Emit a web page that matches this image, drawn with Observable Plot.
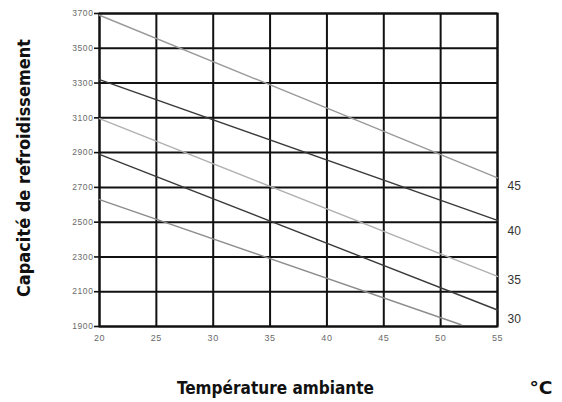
<!DOCTYPE html>
<html>
<head>
<meta charset="utf-8">
<script src="https://cdn.jsdelivr.net/npm/d3@7"></script>
<script src="https://cdn.jsdelivr.net/npm/@observablehq/plot@0.6"></script>
<style>
  html, body { margin: 0; padding: 0; background: #fff; }
  #chart { width: 562px; height: 402px; }
</style>
</head>
<body>
<div id="chart"></div>
<script>
// Data (cooling capacity vs ambient temperature)
const series = ["45", "40", "35", "30", "25"];
const startTemp = [20, 20, 20, 20, 20];
const endTemp = [55, 55, 55, 55, 51.8];
const startCap = [3690, 3320, 3095, 2890, 2630];
const endCap = [2755, 2510, 2188, 1995, 1910];
const lineColors = ["#9a9a9a", "#3a3a3a", "#b0b0b0", "#3a3a3a", "#8c8c8c"];
const labelText = ["45", "40", "35", "30"];
const labelCap = [2705, 2450, 2165, 1945];
const xTicks = [20, 25, 30, 35, 40, 45, 50, 55];
const yTicks = [1900, 2100, 2300, 2500, 2700, 2900, 3100, 3300, 3500, 3700];
const yTitle = "Capacité de refroidissement";
const xTitle = "Température ambiante";
const unit = "°C";

const rows = [];
series.forEach((s, i) => {
  rows.push({series: s, t: startTemp[i], c: startCap[i]});
  rows.push({series: s, t: endTemp[i], c: endCap[i]});
});
const labels = labelText.map((t, i) => ({t: 55, c: labelCap[i], text: t}));
const titleFont = "DejaVu Sans Condensed, DejaVu Sans, sans-serif";

const chart = Plot.plot({
  width: 562,
  height: 402,
  marginLeft: 99,
  marginRight: 65,
  marginTop: 13,
  marginBottom: 76,
  style: {fontFamily: "Liberation Sans, Arial, sans-serif", background: "#fff"},
  x: {domain: [20, 55], ticks: xTicks, label: null},
  y: {domain: [1900, 3700], ticks: yTicks, label: null},
  color: {domain: series, range: lineColors},
  marks: [
    Plot.gridX(xTicks, {stroke: "#111", strokeOpacity: 1, strokeWidth: 2}),
    Plot.gridY(yTicks, {stroke: "#111", strokeOpacity: 1, strokeWidth: 2}),
    Plot.frame({stroke: "#111", strokeWidth: 2}),
    Plot.axisY(yTicks, {tickSize: 5, tickPadding: 1, fontSize: 8.5, fill: "#6a6a6a", stroke: "#111", strokeWidth: 1.6, tickFormat: d => String(d)}),
    Plot.axisX(xTicks, {tickSize: 0, tickPadding: 8, fontSize: 9, fill: "#6a6a6a", tickFormat: d => String(d)}),
    Plot.line(rows, {x: "t", y: "c", z: "series", stroke: "series", strokeWidth: 1.4}),
    Plot.text(labels, {x: "t", y: "c", text: "text", dx: 10, textAnchor: "start", fontSize: 12, fill: "#333"}),
    Plot.text([yTitle], {frameAnchor: "left", textAnchor: "middle", lineAnchor: "middle", rotate: -90, dx: -75, dy: -2, fontSize: 17, fontWeight: "bold", fill: "#111", fontFamily: titleFont}),
    Plot.text([xTitle], {frameAnchor: "bottom", textAnchor: "middle", lineAnchor: "middle", dx: -23, dy: 62, fontSize: 17, fontWeight: "bold", fill: "#111", fontFamily: titleFont}),
    Plot.text([unit], {frameAnchor: "bottom-right", textAnchor: "start", lineAnchor: "middle", dx: 32, dy: 62, fontSize: 17, fontWeight: "bold", fill: "#111", fontFamily: titleFont})
  ]
});
document.getElementById("chart").appendChild(chart);

// fit the condensed titles to the widths seen in the reference
const svg = d3.select(chart);
svg.selectAll("text").each(function() {
  const t = this.textContent;
  const sel = d3.select(this);
  if (t === yTitle) sel.attr("textLength", 258).attr("lengthAdjust", "spacingAndGlyphs");
  if (t === xTitle) sel.attr("textLength", 197).attr("lengthAdjust", "spacingAndGlyphs");
  if (t === unit) sel.attr("textLength", 23).attr("lengthAdjust", "spacingAndGlyphs");
});
svg.selectAll("g[aria-label='y-axis tick label'] text, g[aria-label='x-axis tick label'] text").style("letter-spacing", "0.6px");
</script>
</body>
</html>
